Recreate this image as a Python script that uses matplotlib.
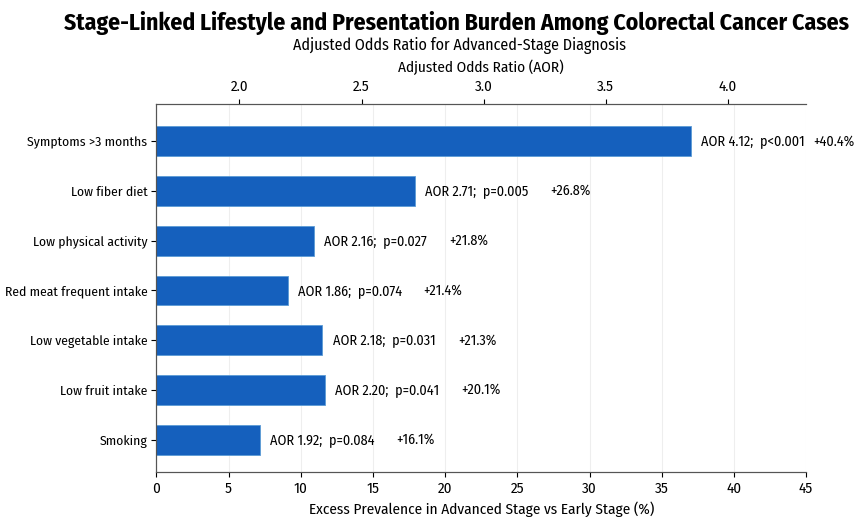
"""Excess prevalence bars with AOR annotations."""

import numpy as np
import matplotlib
matplotlib.use("Agg")
import matplotlib.pyplot as plt

plt.rcParams['font.family'] = ['Fira Sans Condensed', 'Carlito', 'DejaVu Sans']

factors = ["Symptoms >3 months", "Low fiber diet", "Low physical activity",
           "Red meat frequent intake", "Low vegetable intake",
           "Low fruit intake", "Smoking"]
bar_len = [37.0, 17.9, 10.9, 9.1, 11.5, 11.7, 7.2]
aor = [4.12, 2.71, 2.16, 1.86, 2.18, 2.20, 1.92]
p_txt = ["p<0.001", "p=0.005", "p=0.027", "p=0.074", "p=0.031", "p=0.041", "p=0.084"]
excess = [40.4, 26.8, 21.8, 21.4, 21.3, 20.1, 16.1]

aor_ticks = [2.0, 2.5, 3.0, 3.5, 4.0]

# =============================================================================
fig = plt.figure(figsize=(8.64, 5.17), dpi=100)
ax = fig.add_axes([0.181, 0.087, 0.752, 0.712])

y = np.arange(len(factors))
ax.barh(y, bar_len, height=0.6, color="#1560bd", edgecolor="#5b9bd5",
        linewidth=0.6, zorder=2)
ax.set_yticks(y)
ax.set_yticklabels(factors, fontsize=9.8)
ax.tick_params(axis="y", pad=3)
ax.set_ylim(len(factors) - 0.35, -0.75)
ax.set_xlim(0, 45)
ax.set_xticks(np.arange(0, 46, 5))
ax.tick_params(axis="x", labelsize=10.8)
ax.set_xlabel("Excess Prevalence in Advanced Stage vs Early Stage (%)",
              fontsize=11, labelpad=4)
ax.grid(axis="x", color="#eeeeee", linewidth=0.8, zorder=0)
ax.spines["right"].set_visible(False)
for s in ["left", "bottom", "top"]:
    ax.spines[s].set_color("#555555")

for i in range(len(factors)):
    ax.text(bar_len[i] + 0.7, y[i], "AOR %.2f;  %s" % (aor[i], p_txt[i]),
            va="center", ha="left", fontsize=10.2, clip_on=False)
    # percentage label sits a fixed gap right of the bar, but not past the axis end
    ax.text(min(bar_len[i] + 9.4, 45.5), y[i], "+%.1f%%" % excess[i],
            va="center", ha="left", fontsize=10.2, clip_on=False)

# top axis: odds ratio scale
ax2 = ax.twiny()
ax2.set_xlim(min(aor) - 0.2, max(aor) + 0.2)
ax2.set_xticks(aor_ticks)
ax2.set_xticklabels(["%.1f" % t for t in aor_ticks])
ax2.tick_params(axis="x", labelsize=10.8)
ax2.set_xlabel("Adjusted Odds Ratio (AOR)", fontsize=11, labelpad=6)
ax2.spines["right"].set_visible(False)
for s in ["left", "bottom", "top"]:
    ax2.spines[s].set_color("#555555")

fig.text(0.528, 0.955, "Stage-Linked Lifestyle and Presentation Burden Among Colorectal Cancer Cases",
         ha="center", va="center", fontsize=17, fontweight="bold")
fig.text(0.532, 0.912, "Adjusted Odds Ratio for Advanced-Stage Diagnosis",
         ha="center", va="center", fontsize=11.5)

fig.savefig("out.png", dpi=100)
